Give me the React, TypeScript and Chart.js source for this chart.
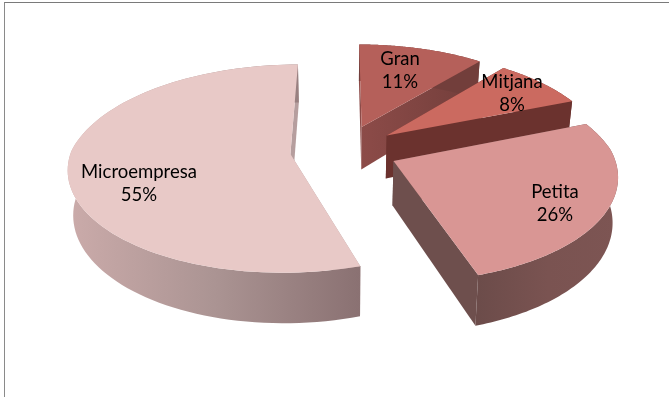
import { useEffect, useRef } from "react";
import { Chart, registerables } from "chart.js";

Chart.register(...registerables);

const categories = ["Microempresa", "Gran", "Mitjana", "Petita"];
const shares = [55, 11, 8, 26];
const paintOrder = [0, 1, 2, 3];

const topColors = ["#E8C9C7", "#B5605A", "#CB6A60", "#D99694"];
const faceStops = [
  ["#B69E9E", "#B69E9E"],
  ["#8C4B48", "#723E3B"],
  ["#6B322E", "#6B322E"],
  ["#6E4F4D", "#6E4F4D"],
];
const wallStops = [
  ["#CBABAA", "#AB9493", "#8A7172"],
  ["#723E3B", "#723E3B", "#723E3B"],
  ["#6B322E", "#6B322E", "#6B322E"],
  ["#6C4C4A", "#7A5351", "#7D5553"],
];
const labelCentres = [
  [139, 184],
  [400, 71],
  [512, 94],
  [555, 204],
];

// Tilted, perspective view of the pie plane; the far half recedes faster than the near half.
const VIEW = {
  cx: 344,
  cy: 150,
  tilt: 0.47,
  farDistance: 1336,
  nearDistance: 1763,
  radius: 219,
  height: 44,
  baseShrink: 0.98,
};

type Pt = { x: number; y: number; s: number };

function project(u: number, v: number): Pt {
  const d = v < 0 ? VIEW.farDistance : VIEW.nearDistance;
  const s = d / (d - v);
  return { x: VIEW.cx + u * s, y: VIEW.cy + VIEW.tilt * v * s, s };
}

function trace(ctx: CanvasRenderingContext2D, pts: { x: number; y: number }[]) {
  ctx.beginPath();
  pts.forEach((p, i) => (i ? ctx.lineTo(p.x, p.y) : ctx.moveTo(p.x, p.y)));
  ctx.closePath();
}

// The lower rim of the extruded pie sits further from the eye, so it pulls in slightly.
const dropped = (p: Pt): Pt => ({
  x: VIEW.cx + (p.x - VIEW.cx) * VIEW.baseShrink,
  y: p.y + VIEW.height * p.s,
  s: p.s,
});

const pie3d = {
  id: "pie3d",
  beforeDatasetDraw(chart: Chart) {
    const ctx = chart.ctx;
    const arcs = chart.getDatasetMeta(0).data as any[];
    for (const i of paintOrder) {
      const arc = arcs[i];
      const a0 = arc.startAngle + Math.PI / 2;
      const a1 = arc.endAngle + Math.PI / 2;
      const mid = (a0 + a1) / 2;
      const off = arc.options.offset;
      const ox = off * Math.sin(mid);
      const oy = -off * Math.cos(mid);
      const apex = project(ox, oy);
      const rim: Pt[] = [];
      const steps = 96;
      for (let k = 0; k <= steps; k++) {
        const t = a0 + ((a1 - a0) * k) / steps;
        rim.push(project(ox + VIEW.radius * Math.sin(t), oy - VIEW.radius * Math.cos(t)));
      }
      const first = rim[0];
      const last = rim[steps];

      for (const edge of [first, last]) {
        const g = ctx.createLinearGradient(apex.x, 0, Math.max(edge.x, apex.x + 1), 0);
        g.addColorStop(0, faceStops[i][0]);
        g.addColorStop(1, faceStops[i][1]);
        ctx.fillStyle = g;
        trace(ctx, [apex, edge, dropped(edge), dropped(apex)]);
        ctx.fill();
      }

      const xs = rim.map((p) => p.x);
      const grad = ctx.createLinearGradient(Math.min(...xs), 0, Math.max(...xs), 0);
      wallStops[i].forEach((c, n) => grad.addColorStop(n / 2, c));
      ctx.fillStyle = grad;
      trace(ctx, [...rim, ...rim.slice().reverse().map(dropped)]);
      ctx.fill();

      ctx.fillStyle = topColors[i];
      trace(ctx, [apex, ...rim]);
      ctx.fill();
    }
    return false;
  },
  afterDatasetsDraw(chart: Chart) {
    const ctx = chart.ctx;
    ctx.font = '18.5px Lato, "Open Sans", sans-serif';
    ctx.fillStyle = "#000000";
    ctx.textAlign = "center";
    ctx.textBaseline = "middle";
    categories.forEach((name, i) => {
      const [x, y] = labelCentres[i];
      ctx.fillText(name, x, y - 12);
      ctx.fillText(`${shares[i]}%`, x, y + 11);
    });
  },
};

export default function App() {
  const ref = useRef<HTMLCanvasElement>(null);
  useEffect(() => {
    document.body.style.margin = "0";
    const chart = new Chart(ref.current!, {
      type: "pie",
      data: {
        labels: categories,
        datasets: [{ data: shares, backgroundColor: topColors, offset: 54, borderWidth: 0 }],
      },
      options: {
        animation: false,
        responsive: false,
        rotation: 162,
        plugins: { legend: { display: false }, tooltip: { enabled: false } },
      },
      plugins: [pie3d],
    });
    return () => chart.destroy();
  }, []);
  return (
    <div style={{ position: "relative", width: 669, height: 397, background: "#fff", overflow: "hidden" }}>
      <canvas ref={ref} width={669} height={397} style={{ display: "block" }} />
      <div
        style={{
          position: "absolute",
          left: 4,
          top: 2,
          width: 665,
          height: 395,
          boxSizing: "border-box",
          borderLeft: "1px solid #8a8a8a",
          borderTop: "1px solid #7a7a7a",
        }}
      />
    </div>
  );
}
